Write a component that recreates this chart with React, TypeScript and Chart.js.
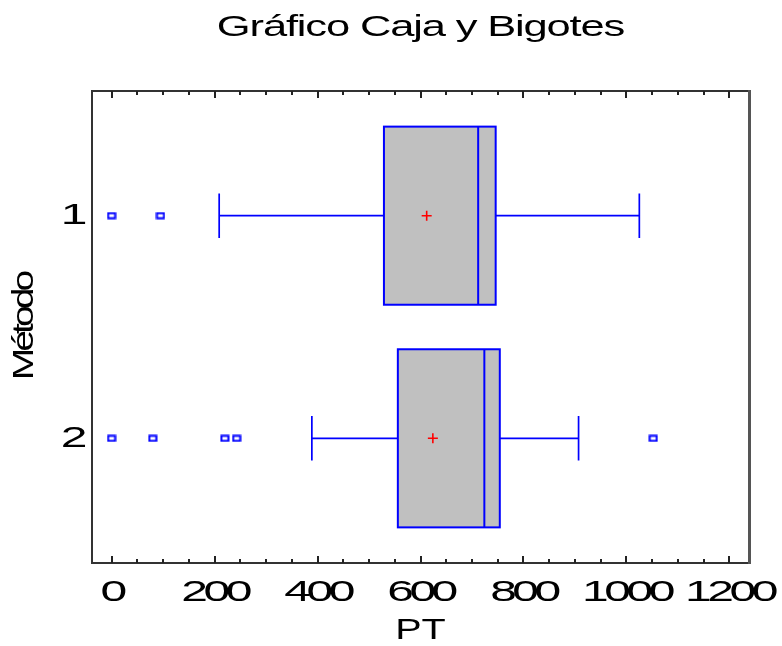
import React, { useEffect, useRef } from 'react';
import { Chart, registerables } from 'chart.js';

Chart.register(...registerables);

// ---- data ----
const categories = ['1', '2'];
const categoryPositions = [1, 2];
const whiskerLow = [209, 389];
const q1 = [529, 556];
const median = [712, 724];
const q3 = [746, 754];
const whiskerHigh = [1025, 907];
const means = [612, 624];
const outliers1 = [0, 95];
const outliers2 = [0, 80, 220, 243, 1052];
const xTicks = [0, 200, 400, 600, 800, 1000, 1200];
const xMinorStep = 50;

const titleText = 'Gráfico Caja y Bigotes';
const xTitle = 'PT';
const yTitle = 'Método';

const FONT = "'Liberation Sans', Arial, sans-serif";
const BLUE = '#0000ff';

// glyph stretch / tracking of the rendered text (the reference uses a wide, tight face)
const textStyle: Record<string, { sx: number; ls: number }> = {
  [titleText]: { sx: 1.45, ls: -0.8 },
  [yTitle]: { sx: 1.3, ls: -3 },
  [xTitle]: { sx: 1.32, ls: 0 },
};
const defaultTextStyle = { sx: 1.6, ls: -2.8 };

function makeOutlierMarker(): HTMLCanvasElement {
  const c = document.createElement('canvas');
  c.width = 10;
  c.height = 8;
  const g = c.getContext('2d')!;
  g.strokeStyle = BLUE;
  g.lineWidth = 2;
  g.strokeRect(1.5, 1.5, 7, 5);
  return c;
}

const boxPlugin = {
  id: 'boxWhisker',
  beforeDatasetsDraw(chart: any) {
    const { ctx, scales } = chart;
    const x = scales.x;
    const y = scales.y;
    const halfBox = 0.4;
    const halfCap = 0.1;
    ctx.save();
    categoryPositions.forEach((c, i) => {
      const yc = y.getPixelForValue(c);
      const ya = y.getPixelForValue(c - halfBox);
      const yb = y.getPixelForValue(c + halfBox);
      const yt = Math.min(ya, yb);
      const yBot = Math.max(ya, yb);
      const ca = y.getPixelForValue(c - halfCap);
      const cb = y.getPixelForValue(c + halfCap);
      const xl = x.getPixelForValue(q1[i]);
      const xr = x.getPixelForValue(q3[i]);
      const xm = x.getPixelForValue(median[i]);
      const xwl = x.getPixelForValue(whiskerLow[i]);
      const xwh = x.getPixelForValue(whiskerHigh[i]);

      // whiskers
      ctx.strokeStyle = BLUE;
      ctx.lineWidth = 1.7;
      ctx.beginPath();
      ctx.moveTo(xwl, yc);
      ctx.lineTo(xl, yc);
      ctx.moveTo(xr, yc);
      ctx.lineTo(xwh, yc);
      ctx.moveTo(xwl, ca);
      ctx.lineTo(xwl, cb);
      ctx.moveTo(xwh, ca);
      ctx.lineTo(xwh, cb);
      ctx.stroke();

      // box
      ctx.fillStyle = '#c0c0c0';
      ctx.fillRect(xl, yt, xr - xl, yBot - yt);
      ctx.lineWidth = 2;
      ctx.strokeRect(xl, yt, xr - xl, yBot - yt);

      // median
      ctx.beginPath();
      ctx.moveTo(xm, yt);
      ctx.lineTo(xm, yBot);
      ctx.stroke();
    });
    ctx.restore();
  },
};

const framePlugin = {
  id: 'frameTicks',
  afterDatasetsDraw(chart: any) {
    const { ctx, chartArea, scales } = chart;
    const x = scales.x;
    const { left, right, top, bottom } = chartArea;
    ctx.save();
    ctx.strokeStyle = '#333333';
    ctx.lineWidth = 2;
    ctx.strokeRect(left, top, right - left, bottom - top);
    ctx.strokeStyle = '#555555';
    ctx.lineWidth = 3;
    ctx.beginPath();
    ctx.moveTo(right + 0.5, top - 1);
    ctx.lineTo(right + 0.5, bottom + 1);
    ctx.stroke();

    ctx.strokeStyle = '#222222';
    ctx.lineWidth = 2;
    ctx.beginPath();
    const first = xTicks[0];
    const last = xTicks[xTicks.length - 1];
    for (let v = first; v <= last; v += xMinorStep) {
      const px = Math.round(x.getPixelForValue(v));
      const len = xTicks.includes(v) ? 7 : 4;
      ctx.moveTo(px, top);
      ctx.lineTo(px, top + len);
      ctx.moveTo(px, bottom);
      ctx.lineTo(px, bottom - len);
    }
    ctx.stroke();
    ctx.restore();
  },
};

export default function App() {
  const canvasRef = useRef<HTMLCanvasElement | null>(null);

  useEffect(() => {
    const canvas = canvasRef.current;
    if (!canvas) return;
    const ctx = canvas.getContext('2d') as any;
    const origFillText = CanvasRenderingContext2D.prototype.fillText;
    ctx.fillText = function (text: string, px: number, py: number, maxWidth?: number) {
      const st = textStyle[text] ?? defaultTextStyle;
      this.save();
      this.translate(px, py);
      this.scale(st.sx, 1);
      if ('letterSpacing' in this) this.letterSpacing = `${st.ls}px`;
      if (maxWidth === undefined) origFillText.call(this, text, 0, 0);
      else origFillText.call(this, text, 0, 0, maxWidth / st.sx);
      this.restore();
    };

    const marker = makeOutlierMarker();
    const outlierPoints = [
      ...outliers1.map((v) => ({ x: v, y: categoryPositions[0] })),
      ...outliers2.map((v) => ({ x: v, y: categoryPositions[1] })),
    ];
    const meanPoints = means.map((v, i) => ({ x: v, y: categoryPositions[i] }));

    const chart = new Chart(ctx, {
      type: 'scatter',
      data: {
        datasets: [
          {
            label: 'Atípicos',
            data: outlierPoints,
            pointStyle: marker as any,
            pointRadius: 5,
            pointHoverRadius: 5,
          },
          {
            label: 'Media',
            data: meanPoints,
            pointStyle: 'cross',
            pointRadius: 5,
            borderColor: '#ff0000',
            backgroundColor: '#ff0000',
            borderWidth: 1.6,
          },
        ],
      },
      options: {
        responsive: false,
        animation: false,
        events: [],
        layout: { padding: { left: 0, right: 33, top: 0, bottom: 0 } },
        plugins: {
          legend: { display: false },
          tooltip: { enabled: false },
          title: { display: false },
        },
        scales: {
          xTop: {
            type: 'linear',
            position: 'top',
            min: -38,
            max: 1238,
            grid: { display: false, drawTicks: false },
            border: { display: false },
            ticks: { display: false },
            afterFit: (scale: any) => {
              scale.height = 91;
            },
            title: {
              display: true,
              text: titleText,
              color: '#000',
              font: { family: FONT, size: 30, weight: 'normal', lineHeight: 1.2 },
              padding: { top: 10, bottom: 0 },
            },
          },
          x: {
            type: 'linear',
            position: 'bottom',
            min: -38,
            max: 1238,
            grid: { display: false, drawTicks: false },
            border: { display: false },
            afterBuildTicks: (scale: any) => {
              scale.ticks = xTicks.map((v) => ({ value: v }));
            },
            afterFit: (scale: any) => {
              scale.height = 83;
            },
            ticks: {
              color: '#000',
              padding: 12,
              maxRotation: 0,
              autoSkip: false,
              font: { family: FONT, size: 30, lineHeight: 1.2 },
              callback: (v: any) => String(v),
            },
            title: {
              display: true,
              text: xTitle,
              color: '#000',
              font: { family: FONT, size: 30, lineHeight: 1 },
              padding: { top: 0, bottom: 0 },
            },
          },
          y: {
            type: 'linear',
            reverse: true,
            min: 0.44,
            max: 2.56,
            grid: { display: false, drawTicks: false },
            border: { display: false },
            afterBuildTicks: (scale: any) => {
              scale.ticks = categoryPositions.map((v) => ({ value: v }));
            },
            afterFit: (scale: any) => {
              scale.width = 92;
            },
            ticks: {
              color: '#000',
              padding: 9,
              autoSkip: false,
              font: { family: FONT, size: 30, lineHeight: 1.2 },
              callback: (v: any) => {
                const idx = categoryPositions.indexOf(Number(v));
                return idx >= 0 ? categories[idx] : '';
              },
            },
            title: {
              display: true,
              text: yTitle,
              color: '#000',
              font: { family: FONT, size: 30, lineHeight: 1.2 },
              padding: { top: 7, bottom: 0 },
            },
          },
        },
      },
      plugins: [boxPlugin, framePlugin],
    } as any);

    return () => {
      chart.destroy();
      delete ctx.fillText;
    };
  }, []);

  return (
    <div style={{ position: 'absolute', left: 0, top: 0, width: 782, height: 646, background: '#fff' }}>
      <canvas ref={canvasRef} width={782} height={646} style={{ display: 'block' }} />
    </div>
  );
}
